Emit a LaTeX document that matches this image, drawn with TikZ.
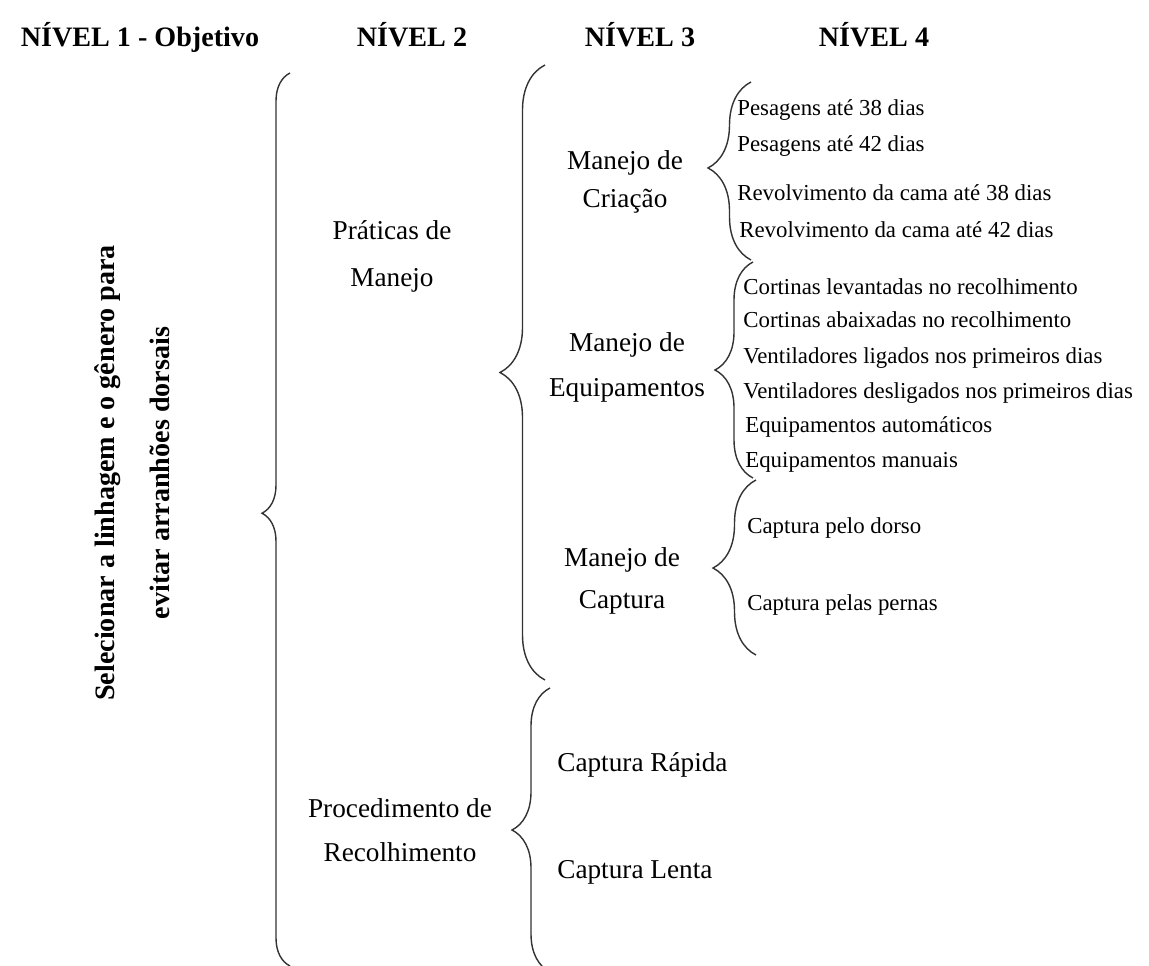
\documentclass[tikz,border=0pt]{standalone}
\usepackage{fontspec}
\setmainfont{Liberation Serif}
\usetikzlibrary{decorations.pathreplacing}

\begin{document}
\begin{tikzpicture}[x=0.2mm, y=-0.2mm,
  head/.style={font=\fontsize{16}{19}\selectfont\bfseries, inner sep=0pt, anchor=base},
  lvl/.style={font=\fontsize{15.5}{#1}\selectfont, align=center, inner sep=0pt},
  item/.style={font=\fontsize{13}{15}\selectfont, anchor=west, inner sep=0pt},
  curly/.style 2 args={decorate, decoration={brace, amplitude=#1, aspect=#2},
    line width=0.8pt, black!80}]
  \useasboundingbox (0,0) rectangle (1149,966);

  \node[head] (h1) at (140,47) {NÍVEL 1 - Objetivo};
  \node[head] (h2) at (412,47) {NÍVEL 2};
  \node[head] (h3) at (640,47) {NÍVEL 3};
  \node[head] (h4) at (874,47) {NÍVEL 4};

  \node[rotate=90, font=\fontsize{16}{31}\selectfont\bfseries, align=center,
    inner sep=0pt] (obj) at (132,473)
    {Selecionar a linhagem e o gênero para\\evitar arranhões dorsais};

  \node[lvl=26.7pt] (pm) at (392,256) {Práticas de\\Manejo};
  \node[lvl=25pt] (pr) at (400,830) {Procedimento de\\Recolhimento};

  \node[lvl=22pt] (mc) at (625,182) {Manejo de\\Criação};
  \node[lvl=25.6pt] (me) at (627,367) {Manejo de\\Equipamentos};
  \node[lvl=23.9pt] (mcap) at (622,581) {Manejo de\\Captura};
  \node[lvl=19pt, anchor=west] (cr) at (557,765) {Captura Rápida};
  \node[lvl=19pt, anchor=west] (cle) at (557,872) {Captura Lenta};

  \node[item] (p38) at (737,110) {Pesagens até 38 dias};
  \node[item] (p42) at (737,146) {Pesagens até 42 dias};
  \node[item] (r38) at (737,193) {Revolvimento da cama até 38 dias};
  \node[item] (r42) at (739,230) {Revolvimento da cama até 42 dias};
  \node[item] (cl) at (743,287) {Cortinas levantadas no recolhimento};
  \node[item] (ca) at (743,320) {Cortinas abaixadas no recolhimento};
  \node[item] (vl) at (743,358) {Ventiladores ligados nos primeiros dias};
  \node[item] (vd) at (743,393) {Ventiladores desligados nos primeiros dias};
  \node[item] (ea) at (745,427) {Equipamentos automáticos};
  \node[item] (em) at (745,462) {Equipamentos manuais};
  \node[item] (cd) at (747,528) {Captura pelo dorso};
  \node[item] (cp) at (747,605) {Captura pelas pernas};

  \coordinate (b1t) at (290,73);  \coordinate (b1b) at (290,966);
  \coordinate (b2t) at (545,65);  \coordinate (b2b) at (545,680);
  \coordinate (b3t) at (550,688); \coordinate (b3b) at (550,972);
  \coordinate (b4t) at (751,82);  \coordinate (b4b) at (751,260);
  \coordinate (b5t) at (753,262); \coordinate (b5b) at (753,478);
  \coordinate (b6t) at (756,480); \coordinate (b6b) at (756,655);

  \draw[curly={0.56cm}{0.507}] (b1b) -- (b1t);
  \draw[curly={0.9cm}{0.5}] (b2b) -- (b2t);
  \draw[curly={0.76cm}{0.5}] (b3b) -- (b3t);
  \draw[curly={0.86cm}{0.517}] (b4b) -- (b4t);
  \draw[curly={0.76cm}{0.5}] (b5b) -- (b5t);
  \draw[curly={0.86cm}{0.497}] (b6b) -- (b6t);
\end{tikzpicture}
\end{document}
